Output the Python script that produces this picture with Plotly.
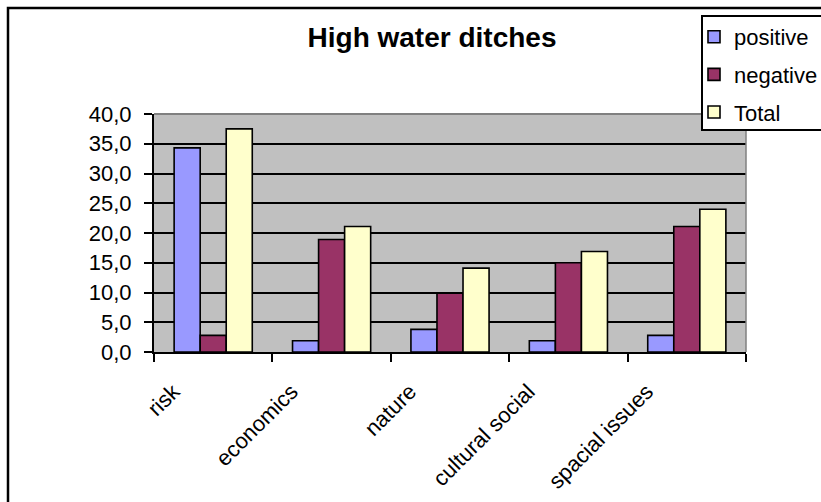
import plotly.graph_objects as go

# Category labels along the x axis
categories = ["risk", "economics", "nature", "cultural social", "spacial issues"]

# Series values (percent of statements per category)
positive = [34.3, 1.9, 3.8, 1.9, 2.8]
negative = [2.8, 18.9, 9.9, 15.0, 21.1]
total = [37.5, 21.1, 14.1, 16.9, 24.0]

series_names = ["positive", "negative", "Total"]
series_colors = ["#9999FF", "#993366", "#FFFFCC"]

# Figure geometry in pixels
W, H = 821, 502
ML, MR, MT, MB = 154, 75, 114, 150
PW = W - ML - MR
PH = H - MT - MB


def px_x(p):
    """Convert a pixel column into paper x."""
    return (p - ML) / PW


def px_y(p):
    """Convert a pixel row (from top) into paper y."""
    return (H - MB - p) / PH


fig = go.Figure()
for name, vals, color in zip(series_names, [positive, negative, total], series_colors):
    fig.add_trace(go.Bar(
        x=categories, y=vals, name=name, legendgroup=name,
        marker=dict(color=color, line=dict(color="black", width=1.6)),
    ))

FONT = "Liberation Sans, Arial, sans-serif"

fig.update_layout(
    width=W, height=H,
    margin=dict(l=ML, r=MR, t=MT, b=MB, pad=0, autoexpand=False),
    paper_bgcolor="white",
    plot_bgcolor="#C0C0C0",
    font=dict(family=FONT, size=22, color="black"),
    separators=",.",
    barmode="group",
    bargap=0.34,
    bargroupgap=0,
    title=dict(
        text="<b>High water ditches</b>",
        font=dict(family=FONT, size=28, color="black"),
        x=432 / W, xref="container", xanchor="center",
        y=1 - 37 / H, yref="container", yanchor="middle",
    ),
    legend=dict(
        x=px_x(694), xanchor="left",
        y=px_y(16), yanchor="top",
        bgcolor="rgba(0,0,0,0)", borderwidth=0,
        font=dict(family=FONT, size=22, color="black"),
        traceorder="grouped", tracegroupgap=6,
    ),
    xaxis=dict(
        showline=True, linecolor="black", linewidth=2,
        ticks="outside", tickson="boundaries", ticklen=8, tickwidth=2, tickcolor="black",
        tickangle=-45, showgrid=False,
        ticklabelstandoff=16, ticklabelshift=-40,
        tickfont=dict(family=FONT, size=22, color="black"),
    ),
    yaxis=dict(
        range=[0, 40], dtick=5, tickformat=".1f",
        showline=True, linecolor="black", linewidth=2,
        ticks="outside", ticklen=8, tickwidth=2, tickcolor="black",
        showgrid=True, gridcolor="black", gridwidth=2,
        zeroline=False, ticklabelstandoff=8,
        tickfont=dict(family=FONT, size=22, color="black"),
    ),
    shapes=[
        # outer chart frame (left and top edges visible)
        dict(type="rect", xref="paper", yref="paper",
             x0=px_x(8), x1=px_x(W + 20), y0=px_y(H + 20), y1=px_y(8),
             line=dict(color="black", width=2.5), fillcolor="rgba(0,0,0,0)", layer="below"),
        # grey plot-area border on top and right
        dict(type="line", xref="paper", yref="paper", x0=0, x1=1, y0=1, y1=1,
             line=dict(color="#808080", width=2), layer="above"),
        dict(type="line", xref="paper", yref="paper", x0=1, x1=1, y0=0, y1=1,
             line=dict(color="#808080", width=1.5), layer="above"),
        # legend box
        dict(type="rect", xref="paper", yref="paper",
             x0=px_x(702), x1=px_x(W + 20), y0=px_y(130), y1=px_y(16),
             line=dict(color="black", width=2), fillcolor="white", layer="above"),
    ],
)

fig.write_html("out.html")
